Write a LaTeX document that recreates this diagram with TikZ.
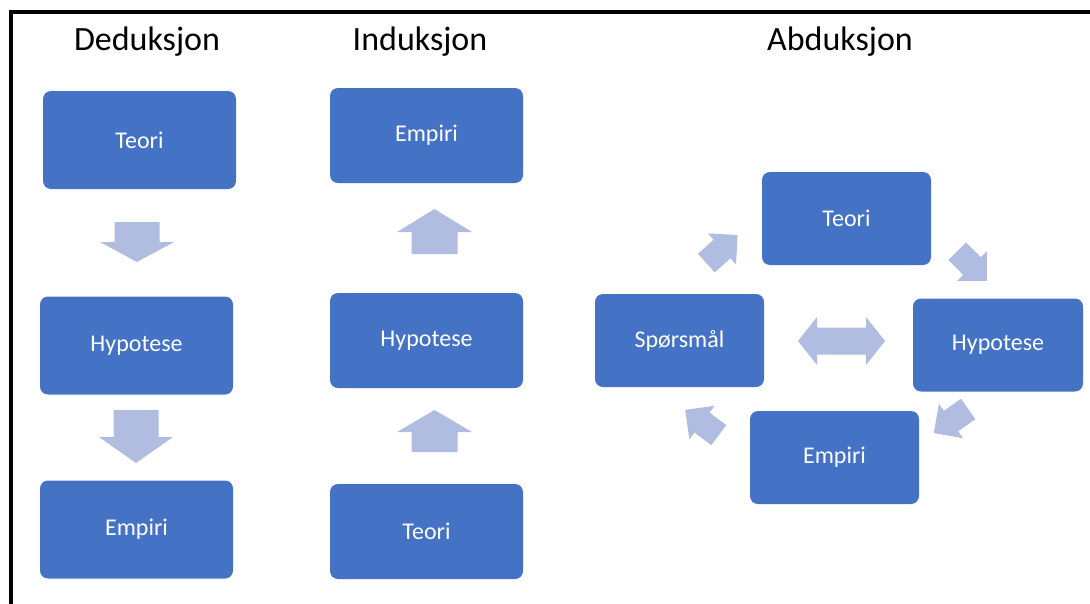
\documentclass[tikz,border=0pt]{standalone}
\usepackage{fontspec}
\setmainfont{Carlito}
\definecolor{boxblue}{HTML}{4472C4}
\definecolor{arrowblue}{HTML}{B0BDE0}

% slanted block arrow: centre x, centre y, heading in degrees (y grows downwards)
\newcommand\slantarrow[3]{%
  \fill[arrowblue]
    ({#1+21*cos(#3)},{#2+21*sin(#3)})
    -- ({#1-21*sin(#3)},{#2+21*cos(#3)})
    -- ({#1-12.5*sin(#3)},{#2+12.5*cos(#3)})
    -- ({#1-21*cos(#3)-12.5*sin(#3)},{#2-21*sin(#3)+12.5*cos(#3)})
    -- ({#1-21*cos(#3)+12.5*sin(#3)},{#2-21*sin(#3)-12.5*cos(#3)})
    -- ({#1+12.5*sin(#3)},{#2-12.5*cos(#3)})
    -- ({#1+21*sin(#3)},{#2-21*cos(#3)})
    -- cycle;}

\begin{document}
\begin{tikzpicture}[x=1pt,y=-1pt,
  heading/.style={font=\fontsize{34}{38}\selectfont, anchor=base, inner sep=0pt},
  stagebox/.style={rectangle, rounded corners=8pt, fill=boxblue, text=white,
    font=\fontsize{24}{28}\selectfont, inner sep=0pt},
  widebox/.style={stagebox, minimum width=193pt, minimum height=98pt},
  smallbox/.style={stagebox, minimum width=169pt, minimum height=93pt},
  blockfill/.style={fill=arrowblue},
  frame/.style={line width=3.6pt, line join=miter}
]
\useasboundingbox (0,0) rectangle (1090,603);

% frame along the left and top edges
\draw[frame] (11,610) -- (11,11.7) -- (1095,11.7);

% headings
\node[heading] (hded) at (147,50) {Deduksjon};
\node[heading] (hind) at (420,50) {Induksjon};
\node[heading] (habd) at (840,50) {Abduksjon};

% deduction: theory -> hypothesis -> empirics
\node[widebox] (dteori)  at (139.5,140)   {Teori};
\node[widebox] (dhyp)    at (136.5,345.5) {Hypotese};
\node[widebox] (dempiri) at (136.5,529.5) {Empiri};
\fill[blockfill] (114.5,222) -- (159.5,222) -- (159.5,242) -- (174,242)
  -- (137,262) -- (100,242) -- (114.5,242) -- cycle;
\fill[blockfill] (113.5,410) -- (158.5,410) -- (158.5,437) -- (173,437)
  -- (136,463) -- (99,437) -- (113.5,437) -- cycle;

% induction: theory -> hypothesis -> empirics, read upwards
\node[widebox, minimum height=95pt] (iempiri) at (426.5,135.5) {Empiri};
\node[widebox, minimum height=95pt] (ihyp)    at (426.5,340.5) {Hypotese};
\node[widebox, minimum height=95pt] (iteori)  at (426.5,531.5) {Teori};
\fill[blockfill] (411.5,254) -- (457.5,254) -- (457.5,232) -- (472,232)
  -- (434.5,209) -- (397,232) -- (411.5,232) -- cycle;
\fill[blockfill] (411.5,452) -- (457.5,452) -- (457.5,432) -- (472,432)
  -- (434.5,410) -- (397,432) -- (411.5,432) -- cycle;

% abduction: a cycle around the question
\node[smallbox] (ateori)  at (846.5,218.5) {Teori};
\node[smallbox] (asporsm) at (679.5,340.5) {Spørsmål};
\node[smallbox, minimum width=170pt] (ahyp) at (998,345) {Hypotese};
\node[smallbox] (aempiri) at (834.5,457.5) {Empiri};
\slantarrow{722}{249}{-42}
\slantarrow{972}{266}{45}
\slantarrow{951}{421}{145}
\slantarrow{702}{422.5}{-143}
% question <-> hypothesis
\fill[blockfill] (798,341) -- (817,317) -- (817,327.5) -- (866,327.5)
  -- (866,317) -- (885,341) -- (866,365) -- (866,354.5) -- (817,354.5)
  -- (817,365) -- cycle;
\end{tikzpicture}
\end{document}
